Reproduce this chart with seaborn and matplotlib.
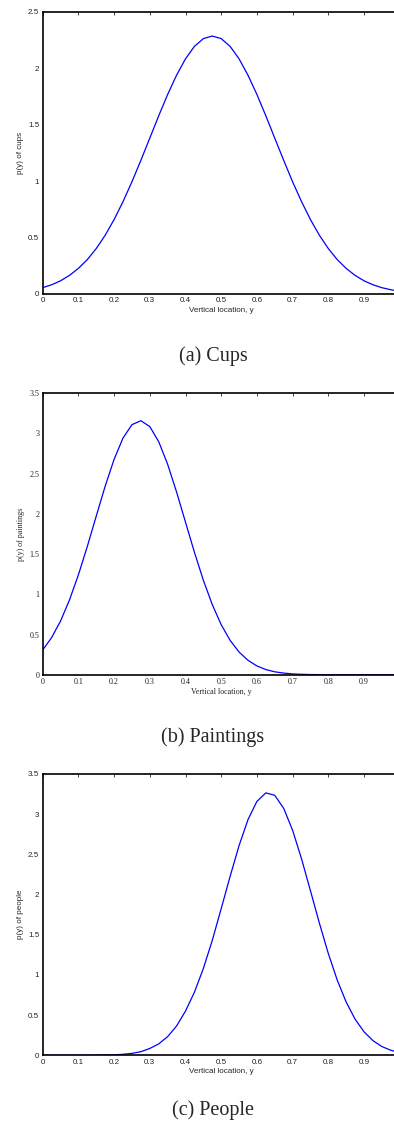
import matplotlib
matplotlib.use("Agg")
import matplotlib.pyplot as plt
from matplotlib.ticker import FuncFormatter
import seaborn as sns

# sample positions along the vertical location axis
y_loc = [0.0, 0.025, 0.05, 0.075, 0.1, 0.125, 0.15, 0.175, 0.2, 0.225,
         0.25, 0.275, 0.3, 0.325, 0.35, 0.375, 0.4, 0.425, 0.45, 0.475,
         0.5, 0.525, 0.55, 0.575, 0.6, 0.625, 0.65, 0.675, 0.7, 0.725,
         0.75, 0.775, 0.8, 0.825, 0.85, 0.875, 0.9, 0.925, 0.95, 0.975, 1.0]

p_cups = [0.056, 0.082, 0.117, 0.165, 0.227, 0.305, 0.403, 0.521, 0.660, 0.819,
          0.995, 1.185, 1.382, 1.580, 1.769, 1.940, 2.085, 2.195, 2.264, 2.287,
          2.264, 2.195, 2.085, 1.940, 1.769, 1.580, 1.382, 1.185, 0.995, 0.819,
          0.660, 0.521, 0.403, 0.305, 0.227, 0.165, 0.117, 0.082, 0.056, 0.038, 0.025]

p_paintings = [0.307, 0.462, 0.668, 0.929, 1.242, 1.596, 1.973, 2.345, 2.679, 2.944,
               3.110, 3.159, 3.086, 2.898, 2.617, 2.272, 1.897, 1.523, 1.175, 0.872,
               0.622, 0.427, 0.282, 0.179, 0.109, 0.064, 0.036, 0.020, 0.010, 0.005,
               0.002, 0.001, 0.0, 0.0, 0.0, 0.0, 0.0, 0.0, 0.0, 0.0, 0.0]

p_people = [0.0, 0.0, 0.0, 0.0, 0.0, 0.0006, 0.0013, 0.003, 0.006, 0.0125,
            0.024, 0.045, 0.085, 0.142, 0.232, 0.365, 0.55, 0.785, 1.08, 1.43,
            1.825, 2.226, 2.609, 2.932, 3.159, 3.265, 3.235, 3.073, 2.800, 2.445,
            2.048, 1.645, 1.267, 0.936, 0.663, 0.450, 0.293, 0.183, 0.109, 0.063, 0.035]

x_ticks = [0, 0.1, 0.2, 0.3, 0.4, 0.5, 0.6, 0.7, 0.8, 0.9]

panels = [
    # values, y label, caption, y max, font
    (p_cups, "p(y) of cups", "(a) Cups", 2.5, "Liberation Sans"),
    (p_paintings, "p(y) of paintings", "(b) Paintings", 3.5, "Liberation Serif"),
    (p_people, "p(y) of people", "(c) People", 3.5, "Liberation Sans"),
]

# axes placement in pixels (top, bottom) of a 394x1124 image
W, H = 394, 1124
ax_px = [(12, 294), (393.3, 674.7), (774, 1055.3)]
caption_y = [356.5, 737, 1110]

sns.set_style("white")
plt.rcParams["font.family"] = ["Liberation Sans", "DejaVu Sans"]

fig = plt.figure(figsize=(W / 100, H / 100), dpi=100)
fmt = FuncFormatter(lambda v, _: f"{v:g}")

for (vals, ylab, cap, ymax, fam), (top, bot), cy in zip(panels, ax_px, caption_y):
    ax = fig.add_axes([42.7 / W, 1 - bot / H, 357 / W, (bot - top) / H])
    sns.lineplot(x=y_loc, y=vals, ax=ax, color="#0000ff", linewidth=0.9)

    ax.set_xlim(0, 1)
    ax.set_ylim(0, ymax)
    ax.set_xticks(x_ticks)
    yt = [i * 0.5 for i in range(int(ymax / 0.5) + 1)]
    ax.set_yticks(yt)
    ax.xaxis.set_major_formatter(fmt)
    ax.yaxis.set_major_formatter(fmt)
    ax.tick_params(direction="in", top=True, right=True, length=2.5, width=0.6,
                   labelsize=5.8, pad=2.5, colors="#222222")
    for lbl in ax.get_xticklabels() + ax.get_yticklabels():
        lbl.set_family(fam)

    ax.set_xlabel("Vertical location, y", fontsize=5.8, family=fam, labelpad=1.5)
    ax.set_ylabel(ylab, fontsize=5.8, family=fam, labelpad=3)

    for s in ax.spines.values():
        s.set_color("black")
        s.set_linewidth(1.2)

    fig.text(213 / W, 1 - cy / H, cap, ha="center", va="center",
             fontsize=14.5, family="Liberation Serif")

fig.savefig("out.png", dpi=100)
